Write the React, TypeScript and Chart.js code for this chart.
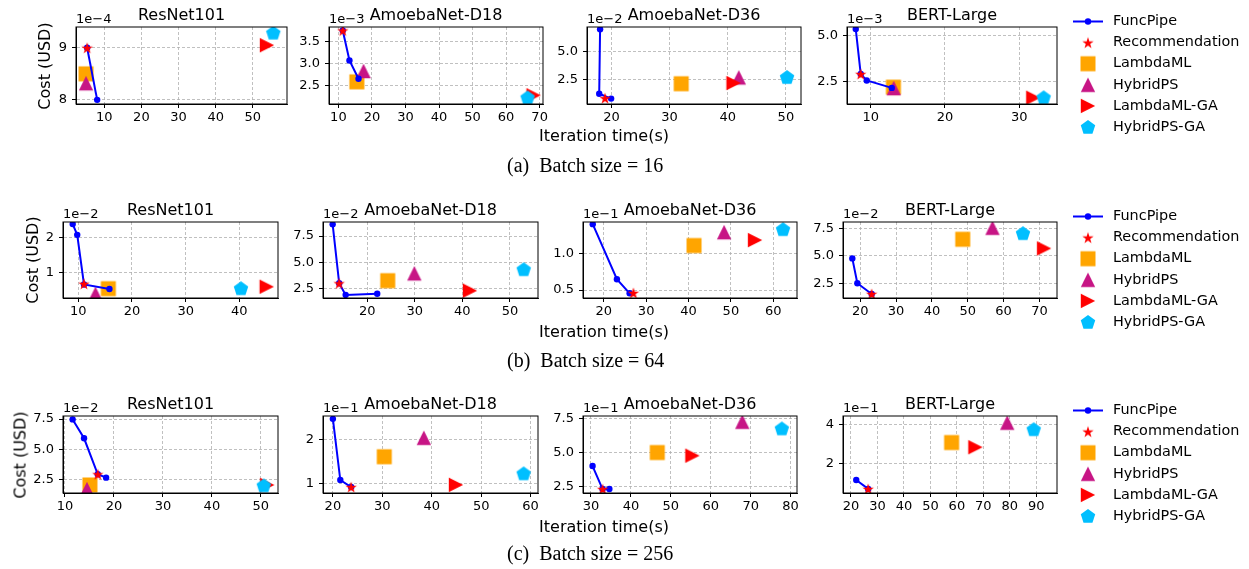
import React, { useEffect, useRef } from "react";
import { Chart, registerables } from "chart.js";
Chart.register(...registerables);
Chart.defaults.font.family = "'DejaVu Sans'";

// ---------------- data ----------------
const MODELS = ["ResNet101", "AmoebaNet-D18", "AmoebaNet-D36", "BERT-Large"];
const SERIES = ["FuncPipe", "Recommendation", "LambdaML", "HybridPS", "LambdaML-GA", "HybridPS-GA"];
const CAPTIONS = ["(a)  Batch size = 16", "(b)  Batch size = 64", "(c)  Batch size = 256"];
const Y_LABEL = "Cost (USD)";
const X_LABEL = "Iteration time(s)";

// Batch size = 16 (cost values are mantissas of the axis offset 1e<exp>)
const exp16 = [-4, -3, -2, -3];
const funcPipeX16 = [[5.4, 8.1], [11.3, 13.3, 16.0], [18.05, 17.9, 19.95], [7.98, 8.65, 9.46, 12.83]];
const funcPipeY16 = [[9.0, 8.0], [3.76, 3.07, 2.65], [7.0, 1.24, 0.81], [5.33, 2.9, 2.55, 2.15]];
const recX16 = [5.4, 11.3, 18.9, 8.65];
const recY16 = [9.0, 3.76, 0.85, 2.9];
const lambdaMLX16 = [5.1, 15.5, 32.0, 13.05];
const lambdaMLY16 = [8.5, 2.58, 2.14, 2.19];
const hybridPSX16 = [5.1, 17.5, 41.9, 13.1];
const hybridPSY16 = [8.32, 2.83, 2.7, 2.14];
const lambdaMLGAX16 = [53.8, 68.2, 41.0, 31.9];
const lambdaMLGAY16 = [9.05, 2.27, 2.2, 1.62];
const hybridPSGAX16 = [55.5, 66.4, 50.2, 33.3];
const hybridPSGAY16 = [9.29, 2.22, 2.73, 1.64];
const xLim16 = [[2.4, 59.2], [7.2, 71.0], [15.8, 52.6], [6.8, 35.1]];
const yLim16 = [[7.92, 9.4], [2.07, 3.84], [0.33, 7.2], [1.28, 5.44]];
const xTicks16 = [[10, 20, 30, 40, 50], [10, 20, 30, 40, 50, 60, 70], [20, 30, 40, 50], [10, 20, 30]];
const yTicks16 = [[8, 9], [2.5, 3.0, 3.5], [2.5, 5.0], [2.5, 5.0]];

// Batch size = 64
const exp64 = [-2, -2, -1, -2];
const funcPipeX64 = [[8.96, 9.8, 11.06, 15.8], [12.73, 14.1, 15.46, 22.1], [17.4, 23.1, 26.1], [17.8, 19.2, 23.2]];
const funcPipeY64 = [[2.39, 2.08, 0.65, 0.52], [8.62, 2.98, 1.86, 1.98], [1.41, 0.65, 0.455], [4.76, 2.5, 1.53]];
const recX64 = [11.06, 14.1, 27.0, 23.2];
const recY64 = [0.67, 2.98, 0.46, 1.53];
const lambdaMLX64 = [15.6, 24.3, 41.3, 48.6];
const lambdaMLY64 = [0.53, 3.23, 1.115, 6.5];
const hybridPSX64 = [13.2, 29.9, 48.4, 56.9];
const hybridPSY64 = [0.38, 3.93, 1.3, 7.55];
const lambdaMLGAX64 = [45.1, 41.6, 55.7, 71.3];
const lambdaMLGAY64 = [0.585, 2.27, 1.19, 5.67];
const hybridPSGAX64 = [40.3, 52.9, 62.3, 65.4];
const hybridPSGAY64 = [0.54, 4.32, 1.34, 7.05];
const xLim64 = [[7.15, 47.2], [10.7, 55.9], [15.1, 65.6], [15.2, 74.9]];
const yLim64 = [[0.26, 2.45], [1.57, 8.84], [0.39, 1.44], [1.16, 8.07]];
const xTicks64 = [[10, 20, 30, 40], [20, 30, 40, 50], [20, 30, 40, 50, 60], [20, 30, 40, 50, 60, 70]];
const yTicks64 = [[1, 2], [2.5, 5.0, 7.5], [0.5, 1.0], [2.5, 5.0, 7.5]];

// Batch size = 256
const exp256 = [-2, -1, -1, -1];
const funcPipeX256 = [[11.57, 13.9, 16.7, 18.4], [20.0, 21.5, 23.7], [30.4, 32.9, 34.6], [22.0, 26.5]];
const funcPipeY256 = [[7.47, 5.92, 2.97, 2.69], [2.48, 1.09, 0.93], [4.01, 2.33, 2.33], [1.18, 0.72]];
const recX256 = [16.7, 23.7, 32.9, 26.5];
const recY256 = [2.97, 0.93, 2.33, 0.72];
const lambdaMLX256 = [15.1, 30.4, 46.6, 58.0];
const lambdaMLY256 = [2.09, 1.62, 5.0, 3.1];
const hybridPSX256 = [14.5, 38.4, 67.9, 79.0];
const hybridPSY256 = [1.75, 2.05, 7.25, 4.12];
const lambdaMLGAX256 = [51.3, 44.9, 55.4, 67.0];
const lambdaMLGAY256 = [2.09, 0.98, 4.77, 2.86];
const hybridPSGAX256 = [50.6, 58.6, 77.8, 89.0];
const hybridPSGAY256 = [2.05, 1.24, 6.76, 3.78];
const xLim256 = [[9.6, 53.5], [18.0, 61.5], [28.0, 81.6], [17.0, 97.8]];
const yLim256 = [[1.43, 7.75], [0.795, 2.545], [2.04, 7.67], [0.51, 4.46]];
const xTicks256 = [[10, 20, 30, 40, 50], [20, 30, 40, 50, 60], [30, 40, 50, 60, 70, 80], [20, 30, 40, 50, 60, 70, 80, 90]];
const yTicks256 = [[2.5, 5.0, 7.5], [1, 2], [2.5, 5.0, 7.5], [2, 4]];

// ---------------- layout / style ----------------
const ROWS = [
  { t: 27, b: 104, ls: [76, 329, 587, 847], rs: [287, 543, 801, 1057], capY: 165, xlY: 135, ylX: 44 },
  { t: 222, b: 298, ls: [63, 323, 583, 843], rs: [278, 538, 797, 1057], capY: 360, xlY: 331, ylX: 32 },
  { t: 416, b: 493, ls: [63, 323, 583, 843], rs: [278, 538, 797, 1057], capY: 553, xlY: 526, ylX: 20 },
];
const COLORS = {
  funcPipe: "#0000ff",
  rec: "#ff0000",
  lambdaML: "#ffa500",
  hybridPS: "#c71585",
  lambdaMLGA: "#ff0000",
  hybridPSGA: "#00bfff",
};
const FONT = "'DejaVu Sans'";
const L = 50, T = 30, R = 14, B = 24;

type Marker = HTMLCanvasElement;
let MARKERS: Record<string, Marker> | null = null;

function makeMarker(kind: string, color: string): Marker {
  const s = 22;
  const c = document.createElement("canvas");
  c.width = s;
  c.height = s;
  const g = c.getContext("2d")!;
  const cx = s / 2, cy = s / 2;
  g.fillStyle = color;
  g.beginPath();
  if (kind === "square") {
    g.rect(cx - 7.5, cy - 7.5, 15, 15);
  } else if (kind === "triUp") {
    g.moveTo(cx, cy - 7.2);
    g.lineTo(cx + 7.2, cy + 7.2);
    g.lineTo(cx - 7.2, cy + 7.2);
  } else if (kind === "triRight") {
    g.moveTo(cx + 7.2, cy);
    g.lineTo(cx - 7.2, cy - 7.2);
    g.lineTo(cx - 7.2, cy + 7.2);
  } else if (kind === "pentagon") {
    const r = 7.6;
    for (let i = 0; i < 5; i++) {
      const a = -Math.PI / 2 + (i * 2 * Math.PI) / 5;
      const px = cx + r * Math.cos(a), py = cy + 0.6 + r * Math.sin(a);
      if (i === 0) g.moveTo(px, py); else g.lineTo(px, py);
    }
  } else if (kind === "star") {
    const ro = 6, ri = 6 * 0.382;
    for (let i = 0; i < 10; i++) {
      const r = i % 2 === 0 ? ro : ri;
      const a = -Math.PI / 2 + (i * Math.PI) / 5;
      const px = cx + r * Math.cos(a), py = cy + 0.6 + r * Math.sin(a);
      if (i === 0) g.moveTo(px, py); else g.lineTo(px, py);
    }
  }
  g.closePath();
  g.fill();
  return c;
}

function getMarkers() {
  if (!MARKERS) {
    MARKERS = {
      star: makeMarker("star", COLORS.rec),
      square: makeMarker("square", COLORS.lambdaML),
      triUp: makeMarker("triUp", COLORS.hybridPS),
      triRight: makeMarker("triRight", COLORS.lambdaMLGA),
      pentagon: makeMarker("pentagon", COLORS.hybridPSGA),
    };
  }
  return MARKERS;
}

type PanelSpec = {
  key: string;
  title: string;
  exp: number;
  fpX: number[]; fpY: number[];
  recX: number; recY: number;
  lmX: number; lmY: number;
  hpX: number; hpY: number;
  lgX: number; lgY: number;
  hgX: number; hgY: number;
  xLim: number[]; yLim: number[];
  xTicks: number[]; yTicks: number[];
  l: number; r: number; t: number; b: number;
  legend: boolean;
};

const BATCHES = [
  { exp: exp16, fpX: funcPipeX16, fpY: funcPipeY16, recX: recX16, recY: recY16, lmX: lambdaMLX16, lmY: lambdaMLY16, hpX: hybridPSX16, hpY: hybridPSY16, lgX: lambdaMLGAX16, lgY: lambdaMLGAY16, hgX: hybridPSGAX16, hgY: hybridPSGAY16, xLim: xLim16, yLim: yLim16, xTicks: xTicks16, yTicks: yTicks16 },
  { exp: exp64, fpX: funcPipeX64, fpY: funcPipeY64, recX: recX64, recY: recY64, lmX: lambdaMLX64, lmY: lambdaMLY64, hpX: hybridPSX64, hpY: hybridPSY64, lgX: lambdaMLGAX64, lgY: lambdaMLGAY64, hgX: hybridPSGAX64, hgY: hybridPSGAY64, xLim: xLim64, yLim: yLim64, xTicks: xTicks64, yTicks: yTicks64 },
  { exp: exp256, fpX: funcPipeX256, fpY: funcPipeY256, recX: recX256, recY: recY256, lmX: lambdaMLX256, lmY: lambdaMLY256, hpX: hybridPSX256, hpY: hybridPSY256, lgX: lambdaMLGAX256, lgY: lambdaMLGAY256, hgX: hybridPSGAX256, hgY: hybridPSGAY256, xLim: xLim256, yLim: yLim256, xTicks: xTicks256, yTicks: yTicks256 },
];

const PANELS: PanelSpec[] = [];
BATCHES.forEach((bd, ri) => {
  const row = ROWS[ri];
  MODELS.forEach((m, ci) => {
    PANELS.push({
      key: `${ri}-${ci}`,
      title: m,
      exp: bd.exp[ci],
      fpX: bd.fpX[ci], fpY: bd.fpY[ci],
      recX: bd.recX[ci], recY: bd.recY[ci],
      lmX: bd.lmX[ci], lmY: bd.lmY[ci],
      hpX: bd.hpX[ci], hpY: bd.hpY[ci],
      lgX: bd.lgX[ci], lgY: bd.lgY[ci],
      hgX: bd.hgX[ci], hgY: bd.hgY[ci],
      xLim: bd.xLim[ci], yLim: bd.yLim[ci],
      xTicks: bd.xTicks[ci], yTicks: bd.yTicks[ci],
      l: row.ls[ci], r: row.rs[ci], t: row.t, b: row.b,
      legend: ci === 3,
    });
  });
});

const decoPlugin = {
  id: "panelDeco",
  afterDraw(chart: any, _args: any, opts: any) {
    const { ctx, chartArea: a } = chart;
    ctx.save();
    ctx.strokeStyle = "#000";
    ctx.lineWidth = 1;
    ctx.setLineDash([]);
    ctx.strokeRect(a.left, a.top, a.right - a.left, a.bottom - a.top);
    ctx.fillStyle = "#000";
    ctx.textAlign = "center";
    ctx.textBaseline = "alphabetic";
    ctx.font = `16px ${FONT}`;
    ctx.fillText(opts.title, (a.left + a.right) / 2, a.top - 7.5);
    ctx.textAlign = "left";
    ctx.font = `13px ${FONT}`;
    ctx.fillText(`1e\u2212${-opts.exp}`, a.left, a.top - 4);
    if (opts.legend) {
      const mk = getMarkers();
      const mx = a.right + 31, tx = a.right + 56;
      const imgs = [null, mk.star, mk.square, mk.triUp, mk.triRight, mk.pentagon];
      SERIES.forEach((name, i) => {
        const y = a.top - 5.5 + i * 21.1;
        if (i === 0) {
          ctx.strokeStyle = COLORS.funcPipe;
          ctx.lineWidth = 2;
          ctx.beginPath();
          ctx.moveTo(mx - 15, y);
          ctx.lineTo(mx + 15, y);
          ctx.stroke();
          ctx.fillStyle = COLORS.funcPipe;
          ctx.beginPath();
          ctx.arc(mx, y, 3.2, 0, Math.PI * 2);
          ctx.fill();
        } else {
          const im = imgs[i]!;
          ctx.drawImage(im, mx - im.width / 2, y - im.height / 2);
        }
        ctx.fillStyle = "#000";
        ctx.font = `14.4px ${FONT}`;
        ctx.textBaseline = "middle";
        ctx.textAlign = "left";
        ctx.fillText(name, tx, y);
      });
    }
    ctx.restore();
  },
};

function decimals(ticks: number[]) {
  return ticks.every((v) => Number.isInteger(v)) ? 0 : 1;
}

function buildConfig(p: PanelSpec): any {
  const mk = getMarkers();
  const yDec = decimals(p.yTicks);
  const axisCommon = {
    type: "linear",
    grid: { color: "#b0b0b0", lineWidth: 0.8, tickColor: "#000", tickLength: 4, tickWidth: 1 },
    border: { display: true, color: "#000", width: 1, dash: [3, 2] },
  };
  const pt = (x: number, y: number) => [{ x, y }];
  const base = { clip: 0, pointRadius: 8, pointHoverRadius: 8, pointBorderWidth: 0 };
  return {
    type: "scatter",
    data: {
      datasets: [
        { ...base, label: SERIES[1], data: pt(p.recX, p.recY), pointStyle: mk.star, order: 0 },
        {
          label: SERIES[0],
          data: p.fpX.map((x, i) => ({ x, y: p.fpY[i] })),
          showLine: true,
          borderColor: COLORS.funcPipe,
          borderWidth: 2,
          pointRadius: 3.2,
          pointHoverRadius: 3.2,
          pointBackgroundColor: COLORS.funcPipe,
          pointBorderWidth: 0,
          pointStyle: "circle",
          clip: 0,
          order: 1,
        },
        { ...base, label: SERIES[5], data: pt(p.hgX, p.hgY), pointStyle: mk.pentagon, order: 2 },
        { ...base, label: SERIES[4], data: pt(p.lgX, p.lgY), pointStyle: mk.triRight, order: 3 },
        { ...base, label: SERIES[3], data: pt(p.hpX, p.hpY), pointStyle: mk.triUp, order: 4 },
        { ...base, label: SERIES[2], data: pt(p.lmX, p.lmY), pointStyle: mk.square, order: 5 },
      ],
    },
    options: {
      responsive: false,
      animation: false,
      devicePixelRatio: 1,
      events: [],
      layout: { padding: { top: T, right: p.legend ? 1249 - p.r : R, bottom: p.legend ? 18 : 0, left: 0 } },
      plugins: {
        legend: { display: false },
        tooltip: { enabled: false },
        panelDeco: { title: p.title, exp: p.exp, legend: p.legend },
      },
      scales: {
        x: {
          ...axisCommon,
          min: p.xLim[0],
          max: p.xLim[1],
          afterBuildTicks: (s: any) => { s.ticks = p.xTicks.map((v) => ({ value: v })); },
          afterFit: (s: any) => { s.height = B; },
          ticks: { color: "#000", font: { size: 13, family: FONT }, padding: 2, autoSkip: false, maxRotation: 0, callback: (v: any) => String(v) },
        },
        y: {
          ...axisCommon,
          min: p.yLim[0],
          max: p.yLim[1],
          afterBuildTicks: (s: any) => { s.ticks = p.yTicks.map((v) => ({ value: v })); },
          afterFit: (s: any) => { s.width = L; },
          ticks: { color: "#000", font: { size: 13, family: FONT }, padding: 5, autoSkip: false, callback: (v: any) => Number(v).toFixed(yDec) },
        },
      },
    },
    plugins: [decoPlugin],
  };
}

function Panel({ p }: { p: PanelSpec }) {
  const ref = useRef<HTMLCanvasElement | null>(null);
  const cw = (p.r - p.l) + L + (p.legend ? 1249 - p.r : R);
  const ch = (p.b - p.t) + T + B + (p.legend ? 18 : 0);
  useEffect(() => {
    const chart = new Chart(ref.current!, buildConfig(p));
    return () => chart.destroy();
  }, []);
  return (
    <canvas
      ref={ref}
      width={cw}
      height={ch}
      style={{ position: "absolute", left: p.l - L, top: p.t - T, width: cw, height: ch }}
    />
  );
}

export default function App() {
  return (
    <div style={{ position: "absolute", left: 0, top: 0, width: 1249, height: 569, overflow: "hidden", background: "#fff" }}>
      {PANELS.map((p) => (
        <Panel key={p.key} p={p} />
      ))}
      {ROWS.map((row, i) => (
        <React.Fragment key={i}>
          <div
            style={{
              position: "absolute", left: row.ylX, top: (row.t + row.b) / 2,
              transform: "translate(-50%, -50%) rotate(-90deg)",
              font: `16px ${FONT}`, whiteSpace: "nowrap", color: "#000",
            }}
          >
            {Y_LABEL}
          </div>
          <div
            style={{
              position: "absolute", left: 604, top: row.xlY,
              transform: "translate(-50%, -50%)",
              font: `16px ${FONT}`, whiteSpace: "nowrap", color: "#000",
            }}
          >
            {X_LABEL}
          </div>
          <div
            style={{
              position: "absolute", left: 507, top: row.capY,
              transform: "translateY(-50%)",
              font: `20px 'Liberation Serif'`, whiteSpace: "pre", color: "#000",
            }}
          >
            {CAPTIONS[i]}
          </div>
        </React.Fragment>
      ))}
    </div>
  );
}
